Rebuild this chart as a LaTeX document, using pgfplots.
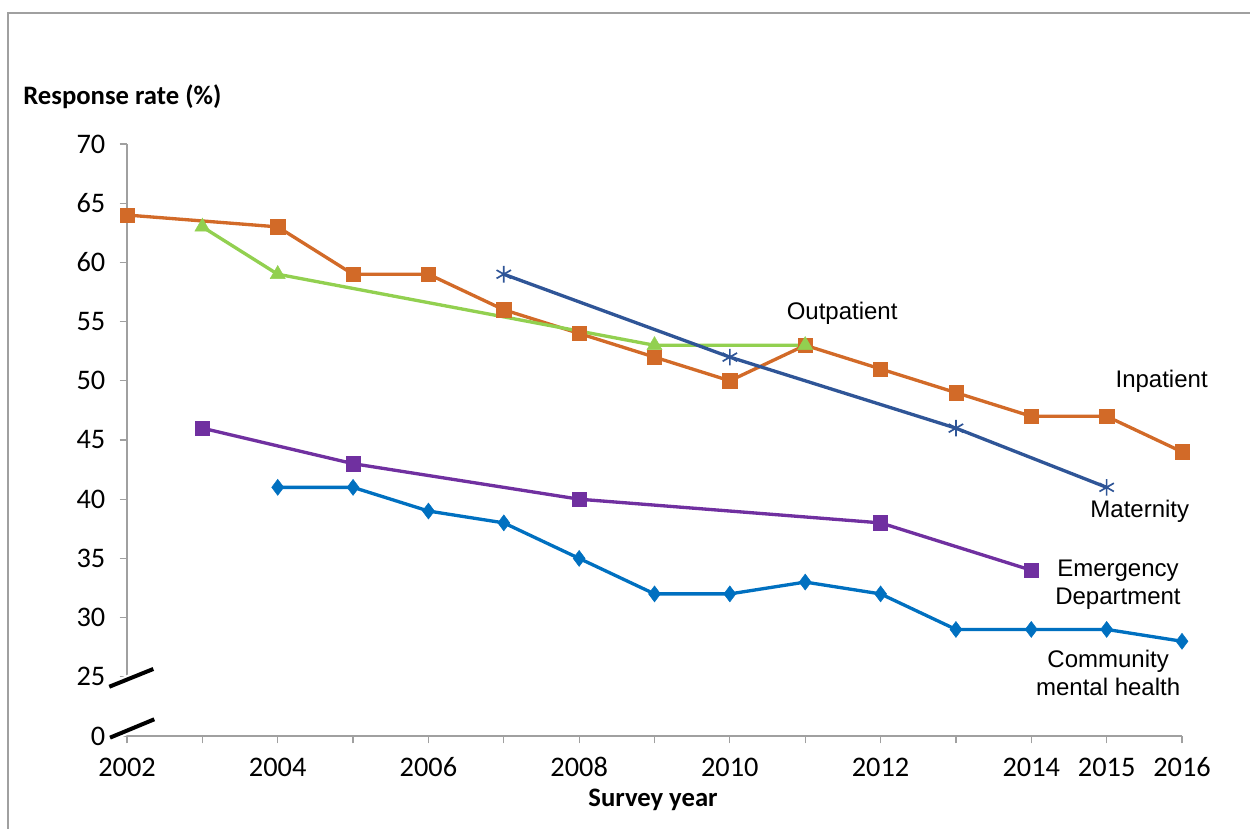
\documentclass[border=0pt]{standalone}
\usepackage{pgfplots}
\pgfplotsset{compat=1.18}
\usepackage{fontspec}
\setmainfont{Carlito}
\newfontfamily\arial{Liberation Sans}
\definecolor{inp}{RGB}{210,106,40}
\definecolor{outp}{RGB}{146,208,80}
\definecolor{mat}{RGB}{47,85,151}
\definecolor{emg}{RGB}{112,48,160}
\definecolor{cmh}{RGB}{0,112,192}
\definecolor{axgray}{RGB}{160,160,160}
\begin{document}
\begin{tikzpicture}
\useasboundingbox (-76.2pt,-55.8pt) rectangle (673.8pt,441.6pt);
\draw[axgray, line width=0.9pt] (-71.4pt,-60pt) -- (-71.4pt,433.8pt) -- (680pt,433.8pt);
\begin{axis}[
  at={(0pt,0pt)}, anchor=south west,
  scale only axis, width=633pt, height=355.2pt,
  xmin=2002, xmax=2016, ymin=20, ymax=70,
  axis lines*=left,
  axis line style={draw=none},
  tick align=outside,
  major tick length=4.5pt,
  major tick style={axgray, line width=0.7pt},
  xtick={2002,2003,...,2016},
  xticklabels={2002,,2004,,2006,,2008,,2010,,2012,,2014,2015,2016},
  ytick={20,25,30,35,40,45,50,55,60,65,70},
  yticklabels={0,25,30,35,40,45,50,55,60,65,70},
  ticklabel style={font=\fontsize{17}{17}\selectfont},
  xticklabel style={text height=11pt, text depth=0pt, yshift=-5pt},
  yticklabel style={xshift=-5pt},
  /pgf/number format/assume math mode=true,
  clip=false,
  every axis plot/.append style={line width=2pt},
]
\draw[axgray, line width=0.8pt] (axis cs:2002,25) -- (axis cs:2002,70);
\draw[axgray, line width=0.8pt] (axis cs:2002,20) -- (axis cs:2016,20);
% Inpatient
\addplot[inp, mark=square*, mark size=4.3pt, mark options={line width=0.3pt}] coordinates {
(2002,64) (2004,63) (2005,59) (2006,59) (2007,56) (2008,54) (2009,52) (2010,50) (2011,53) (2012,51) (2013,49) (2014,47) (2015,47) (2016,44)};
% Outpatient
\addplot[outp, mark=triangle*, mark size=5.2pt, mark options={line width=0.3pt}] coordinates {
(2003,63) (2004,59) (2009,53) (2011,53)};
% Maternity
\addplot[mat, mark=asterisk, mark size=5pt, mark options={line width=1pt}] coordinates {
(2007,59) (2010,52) (2013,46) (2015,41)};
% Emergency Department
\addplot[emg, mark=square*, mark size=4.3pt, mark options={line width=0.3pt}] coordinates {
(2003,46) (2005,43) (2008,40) (2012,38) (2014,34)};
% Community mental health
\addplot[cmh, mark=diamond*, mark size=4.8pt, mark options={line width=0.3pt}] coordinates {
(2004,41) (2005,41) (2006,39) (2007,38) (2008,35) (2009,32) (2010,32) (2011,33) (2012,32) (2013,29) (2014,29) (2015,29) (2016,28)};
% break marks
\draw[white, line width=5pt] (axis cs:2001.765,24.16) -- (axis cs:2002.349,25.66);
\draw[white, line width=5pt] (axis cs:2001.775,19.86) -- (axis cs:2002.362,21.41);
\draw[black, line width=2.4pt] (axis cs:2001.765,24.16) -- (axis cs:2002.349,25.66);
\draw[black, line width=2.4pt] (axis cs:2001.775,19.86) -- (axis cs:2002.362,21.41);
% series labels
\begin{scope}[every node/.style={font=\arial\fontsize{14.4}{16.8}\selectfont, align=center, inner sep=0pt}]
\node at (axis cs:2011.49,55.73) {Outpatient};
\node at (axis cs:2015.73,49.98) {Inpatient};
\node at (axis cs:2015.44,39.0) {Maternity};
\node at (axis cs:2015.15,32.75) {Emergency\\Department};
\node at (axis cs:2015.02,25.32) {Community\\mental health};
\end{scope}
\end{axis}
\node[anchor=west, font=\bfseries\fontsize{16}{16}\selectfont, inner sep=0pt] at (-62.4pt,383.4pt) {Response rate (\%)};
\node[font=\bfseries\fontsize{16}{16}\selectfont, inner sep=0pt] at (315.6pt,-38.4pt) {Survey year};
\end{tikzpicture}
\end{document}
